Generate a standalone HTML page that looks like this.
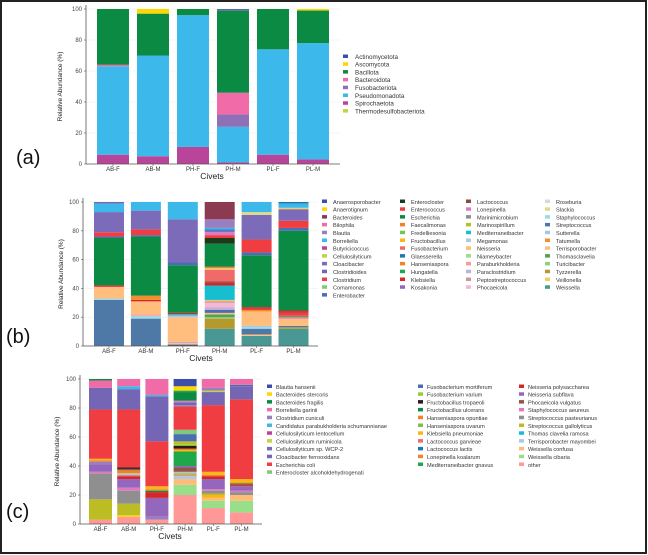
<!DOCTYPE html>
<html><head><meta charset="utf-8"><style>
html,body{margin:0;padding:0;background:#fff;}
svg{display:block;font-family:"Liberation Sans",sans-serif;}
</style></head><body>
<svg id="fig" width="648" height="555" viewBox="0 0 648 555" xmlns="http://www.w3.org/2000/svg">
<rect x="1" y="1" width="645" height="552" fill="#fff" stroke="#222" stroke-width="2"/>
<text x="16" y="164" font-size="20" fill="#111">(a)</text>
<text x="6" y="343" font-size="20" fill="#111">(b)</text>
<text x="6" y="518" font-size="20" fill="#111">(c)</text>
</svg>
<script>
const categories = ["AB-F","AB-M","PH-F","PH-M","PL-F","PL-M"];
const yTicks = [0,20,40,60,80,100];

// Panel (a) legend and stacks [taxon, thickness %] bottom to top
const taxaA = ["Actinomycetota","Ascomycota","Bacillota","Bacteroidota","Fusobacteriota","Pseudomonadota","Spirochaetota","Thermodesulfobacteriota"];
const colorsA = ["#3b4ea8","#ffd700","#0b8a44","#f06ba8","#8e6fb8","#3db8ea","#b8459a","#c5d43a"];
const a_ABF = [["Spirochaetota",6],["Pseudomonadota",57],["Bacteroidota",1],["Bacillota",36]];
const a_ABM = [["Spirochaetota",5],["Pseudomonadota",65],["Bacillota",27],["Ascomycota",3]];
const a_PHF = [["Spirochaetota",11],["Pseudomonadota",85],["Bacillota",4]];
const a_PHM = [["Spirochaetota",1],["Pseudomonadota",23],["Fusobacteriota",8],["Bacteroidota",14],["Bacillota",53],["Fusobacteriota",0.5],["Actinomycetota",0.5]];
const a_PLF = [["Spirochaetota",6],["Pseudomonadota",68],["Bacillota",26]];
const a_PLM = [["Spirochaetota",3],["Pseudomonadota",75],["Bacillota",21],["Ascomycota",1]];

// Panel (b)
const taxaB = ["Anaerosporobacter","Anaerotignum","Bacteroides","Bilophila","Blautia","Borreliella","Butyricicoccus","Cellulosilyticum","Cloacibacter","Clostridioides","Clostridium","Comamonas","Enterobacter",
"Enterocloster","Enterococcus","Escherichia","Faecalimonas","Fredelliesonia","Fructobacillus","Fusobacterium","Glaesserella","Hanseniaspora","Hungatella","Klebsiella","Kosakonia",
"Lactococcus","Lonepinella","Marinimicrobium","Marinospirillum","Mediterraneibacter","Megamonas","Neisseria","Niameybacter","Paraburkholderia","Paraclostridium","Peptostreptococcus","Phocaeicola",
"Roseburia","Slackia","Staphylococcus","Streptococcus","Sutterella","Tatumella","Terrisporobacter","Thomasclavelia","Turicibacter","Tyzzerella","Veillonella","Weissella"];
const colorsB = ["#3b4ea8","#ffd700","#8b3a52","#f06ba8","#9a7fc0","#3db8ea","#b8459a","#c5d43a","#7b6bb8","#7466b4","#ef3d42","#7fc97f","#4a6fb0",
"#1b3a1b","#ef3d42","#0b8a44","#f58025","#7cc24a","#fbb614","#f06a6a","#1f77b4","#f58025","#1ea84a","#d62728","#9467bd",
"#8c4a3c","#e377c2","#8f8f8f","#bcbd22","#17becf","#aec7e8","#ffbb78","#98df8a","#ff9896","#c5b0d5","#c49c94","#f7b6d2",
"#d9d9d9","#dbdb8d","#9edae5","#4e79a7","#a0cbe8","#f28e2b","#ffbe7d","#59a14f","#8cd17d","#b6992d","#f1ce63","#499894"];
const b_ABF = [["Streptococcus",32],["Staphylococcus",1],["Terrisporobacter",8],["Clostridium",1],["Escherichia",33],["Enterobacter",1],["Enterococcus",3],["Cloacibacter",14],["Borreliella",6],["Clostridioides",1]];
const b_ABM = [["Streptococcus",19],["Staphylococcus",2],["Paraburkholderia",1],["Terrisporobacter",9],["Klebsiella",1],["Tatumella",3],["Escherichia",41],["Enterobacter",1],["Enterococcus",4],["Cloacibacter",13],["Borreliella",6]];
const b_PHF = [["Lactococcus",1],["Staphylococcus",1],["Paraburkholderia",1],["Terrisporobacter",17],["Sutterella",1],["Borreliella",1],["Klebsiella",1],["Escherichia",33],["Enterobacter",2],["Cloacibacter",30],["Borreliella",12]];
const b_PHM = [["Weissella",12],["Tyzzerella",7],["Turicibacter",1],["Thomasclavelia",2],["Terrisporobacter",1],["Enterobacter",2],["Paraclostridium",2],["Phocaeicola",3],["Peptostreptococcus",1],["Neisseria",1],["Mediterraneibacter",10],["Klebsiella",2],["Lactococcus",1],["Fusobacterium",8],["Veillonella",1],["Faecalimonas",1],["Escherichia",16],["Enterocloster",4],["Enterococcus",2],["Lonepinella",2],["Kosakonia",1],["Glaesserella",1],["Borreliella",1],["Blautia",6],["Bacteroides",12]];
const b_PLF = [["Weissella",7],["Terrisporobacter",1],["Streptococcus",4],["Staphylococcus",1],["Sutterella",1],["Terrisporobacter",10],["Tatumella",1],["Clostridium",1],["Klebsiella",1],["Escherichia",36],["Enterobacter",2],["Enterococcus",9],["Cloacibacter",17],["Slackia",2],["Borreliella",7]];
const b_PLM = [["Weissella",12],["Tyzzerella",1],["Streptococcus",1],["Terrisporobacter",5],["Bilophila",1],["Thomasclavelia",1],["Clostridium",2],["Klebsiella",1],["Lactococcus",1],["Escherichia",55],["Enterobacter",2],["Enterococcus",5],["Cloacibacter",8],["Veillonella",1],["Borreliella",3],["Glaesserella",1]];

// Panel (c)
const taxaC = ["Blautia hansenii","Bacteroides stercoris","Bacteroides fragilis","Borreliella garinii","Clostridium cuniculi","Candidatus parabukholderia schumannianae","Cellulosilyticum lentocellum","Cellulosilyticum ruminicola","Cellulosilyticum sp. WCP-2","Cloacibacter ferrooxidans","Escherichia coli","Enterocloster alcoholdehydrogenati",
"Fusobacterium mortiferum","Fusobacterium varium","Fructobacillus tropaeoli","Fructobacillus ulcerans","Hanseniaspora opuntiae","Hanseniaspora uvarum","Klebsiella pneumoniae","Lactococcus garvieae","Lactococcus lactis","Lonepinella koalarum","Mediterraneibacter gnavus",
"Neisseria polysaccharea","Neisseria subflava","Phocaeicola vulgatus","Staphylococcus aeureus","Streptococcus pasteurianus","Streptococcus gallolyticus","Thomas clavelia ramosa","Terrisporobacter mayombei","Weissella confusa","Weissella cibaria","other"];
const colorsC = ["#3b4ea8","#ffd700","#0b8a44","#f06ba8","#9a7fc0","#3db8ea","#b8459a","#c5d43a","#7b6bb8","#7466b4","#ef3d42","#7fc97f",
"#4a6fb0","#9acd32","#2b1a1a","#0b8a44","#f58025","#7cc24a","#fbb614","#f06a6a","#1f77b4","#f58025","#1ea84a",
"#d62728","#9467bd","#8c564b","#e377c2","#8f8f8f","#bcbd22","#17becf","#aec7e8","#ffbb78","#98df8a","#ff9896"];
const c_ABF = [["other",3],["Streptococcus gallolyticus",14],["Streptococcus pasteurianus",18],["Staphylococcus aeureus",1],["Neisseria subflava",5],["Clostridium cuniculi",2],["Hanseniaspora opuntiae",1],["Klebsiella pneumoniae",1],["Escherichia coli",34],["Cloacibacter ferrooxidans",15],["Borreliella garinii",5],["Bacteroides fragilis",1]];
const c_ABM = [["other",5],["Bacteroides stercoris",1],["Streptococcus gallolyticus",8],["Streptococcus pasteurianus",9],["Staphylococcus aeureus",2],["Neisseria subflava",6],["Neisseria polysaccharea",2],["Staphylococcus aeureus",1],["Weissella cibaria",1],["Hanseniaspora opuntiae",2],["Phocaeicola vulgatus",1],["Fructobacillus tropaeoli",1],["Escherichia coli",40],["Cloacibacter ferrooxidans",14],["Candidatus parabukholderia schumannianae",2],["Borreliella garinii",5]];
const c_PHF = [["other",3],["Clostridium cuniculi",2],["Neisseria subflava",13],["Neisseria polysaccharea",4],["Bacteroides fragilis",1],["Hanseniaspora opuntiae",1],["Klebsiella pneumoniae",2],["Escherichia coli",31],["Cloacibacter ferrooxidans",31],["Candidatus parabukholderia schumannianae",1],["Borreliella garinii",11]];
const c_PHM = [["other",20],["Weissella cibaria",7],["Weissella confusa",4],["Terrisporobacter mayombei",2],["Streptococcus gallolyticus",1],["Staphylococcus aeureus",1],["Weissella cibaria",1],["Phocaeicola vulgatus",3],["Neisseria subflava",1],["Mediterraneibacter gnavus",10],["Klebsiella pneumoniae",1],["Hanseniaspora opuntiae",1],["Fructobacillus tropaeoli",2],["Fusobacterium varium",1],["Streptococcus gallolyticus",2],["Fusobacterium mortiferum",5],["Enterocloster alcoholdehydrogenati",3],["Escherichia coli",16],["Clostridium cuniculi",1],["Cloacibacter ferrooxidans",2],["Staphylococcus aeureus",1],["Bacteroides fragilis",6],["Mediterraneibacter gnavus",1],["Bacteroides stercoris",3],["Blautia hansenii",5]];
const c_PLF = [["other",11],["Weissella cibaria",5],["Weissella confusa",2],["Klebsiella pneumoniae",2],["Streptococcus gallolyticus",1],["Streptococcus pasteurianus",2],["Staphylococcus aeureus",1],["Neisseria subflava",7],["Neisseria polysaccharea",2],["Hanseniaspora opuntiae",1],["Klebsiella pneumoniae",2],["Escherichia coli",46],["Cloacibacter ferrooxidans",9],["Cellulosilyticum ruminicola",1],["Clostridium cuniculi",2],["Borreliella garinii",6]];
const c_PLM = [["other",8],["Weissella cibaria",8],["Weissella confusa",4],["Streptococcus pasteurianus",2],["Staphylococcus aeureus",1],["Neisseria subflava",3],["Phocaeicola vulgatus",1],["Neisseria polysaccharea",1],["Streptococcus gallolyticus",1],["Klebsiella pneumoniae",2],["Escherichia coli",55],["Cloacibacter ferrooxidans",9],["Fusobacterium mortiferum",1],["Borreliella garinii",4]];

const NS = "http://www.w3.org/2000/svg";
const svg = document.getElementById("fig");
function mk(tag, attrs, parent) {
  const e = document.createElementNS(NS, tag);
  for (const k in attrs) e.setAttribute(k, attrs[k]);
  (parent || svg).appendChild(e);
  return e;
}

function drawPanel(p) {
  const g = mk("g", {});
  
  
  const yScale = v => p.y0 - (v / 100) * (p.y0 - p.y100);
  const xScale = i => p.barX0 + i * p.barStep;
  yTicks.forEach(t => {
    const y = yScale(t);
    const gl = mk("line", {x1: p.axisX, x2: p.axisEnd, y1: y, y2: y, stroke: "#eeeeee", "stroke-width": 0.6}, g);
    
    
    const tk = mk("line", {x1: p.axisX - 2, x2: p.axisX, y1: y, y2: y, stroke: "#555", "stroke-width": 0.6}, g);
    
    
    const tl = mk("text", {x: p.axisX - 4, y: y + 2, "font-size": 6, fill: "#444", "text-anchor": "end"}, g);
    tl.textContent = t;
    
    
  });
  p.bars.forEach((segs, i) => {
    let acc = 0;
    const x = xScale(i);
    segs.forEach(s => {
      const idx = p.taxa.indexOf(s[0]);
      const yTop = yScale(acc + s[1]);
      const yBot = yScale(acc);
      const r = mk("rect", {x: x, y: yTop, width: p.barW, height: Math.max(0, yBot - yTop), fill: p.colors[idx]}, g);
      
      
      acc += s[1];
    });
    const xl = mk("text", {x: x + p.barW / 2, y: p.y0 + 7, "font-size": 6, fill: "#333", "text-anchor": "middle"}, g);
    xl.textContent = categories[i];
    
    
    const xt = mk("line", {x1: x + p.barW / 2, x2: x + p.barW / 2, y1: p.y0, y2: p.y0 + 2, stroke: "#555", "stroke-width": 0.6}, g);
    
    
  });
  const ya = mk("line", {x1: p.axisX, x2: p.axisX, y1: p.y100 - 4, y2: p.y0, stroke: "#555", "stroke-width": 0.8}, g);
  
  
  const xa = mk("line", {x1: p.axisX, x2: p.axisEnd, y1: p.y0, y2: p.y0, stroke: "#555", "stroke-width": 0.8}, g);
  
  
  const xt = mk("text", {x: p.xTitleX, y: p.y0 + 15, "font-size": 8.5, fill: "#222", "text-anchor": "middle"}, g);
  xt.textContent = "Civets";
  
  
  const cy = (p.y0 + p.y100) / 2;
  const yt = mk("text", {x: p.yTitleX, y: cy, "font-size": 6.5, fill: "#222", "text-anchor": "middle", transform: `rotate(-90 ${p.yTitleX} ${cy})`}, g);
  yt.textContent = "Relative Abundance (%)";
  
  
  p.legendCols.forEach((col) => {
    for (let k = col.from; k < col.to; k++) {
      const y = p.legY + (k - col.from) * 7.8;
      const sq = mk("rect", {x: col.x, y: y - 2.5, width: 5, height: 3.5, fill: p.colors[k]}, g);
      
      
      const lt = mk("text", {x: col.x + p.legGap, y: y + 1.8, "font-size": p.legFont, fill: "#333"}, g);
      lt.textContent = p.taxa[k];
      
      
    }
  });
}

drawPanel({name: "chart-a-phylum", taxa: taxaA, colors: colorsA, bars: [a_ABF, a_ABM, a_PHF, a_PHM, a_PLF, a_PLM],
  axisX: 86, axisEnd: 340, y0: 164, y100: 9, barX0: 97, barStep: 40, barW: 32, xTitleX: 212, yTitleX: 62,
  legY: 57, legGap: 12, legFont: 6.3, legendCols: [{x: 343, from: 0, to: 8}]});
drawPanel({name: "chart-b-genus", taxa: taxaB, colors: colorsB, bars: [b_ABF, b_ABM, b_PHF, b_PHM, b_PLF, b_PLM],
  axisX: 83, axisEnd: 318, y0: 346, y100: 202, barX0: 94, barStep: 36.9, barW: 30, xTitleX: 201, yTitleX: 63,
  legY: 202, legGap: 11, legFont: 5.6, legendCols: [{x: 322, from: 0, to: 13}, {x: 400, from: 13, to: 25}, {x: 466, from: 25, to: 37}, {x: 545, from: 37, to: 49}]});
drawPanel({name: "chart-c-species", taxa: taxaC, colors: colorsC, bars: [c_ABF, c_ABM, c_PHF, c_PHM, c_PLF, c_PLM],
  axisX: 80, axisEnd: 262, y0: 524, y100: 379, barX0: 89, barStep: 28.2, barW: 23, xTitleX: 170, yTitleX: 59,
  legY: 387, legGap: 9, legFont: 5.6, legendCols: [{x: 267, from: 0, to: 12}, {x: 418, from: 12, to: 23}, {x: 519, from: 23, to: 34}]});
</script>
</body></html>
